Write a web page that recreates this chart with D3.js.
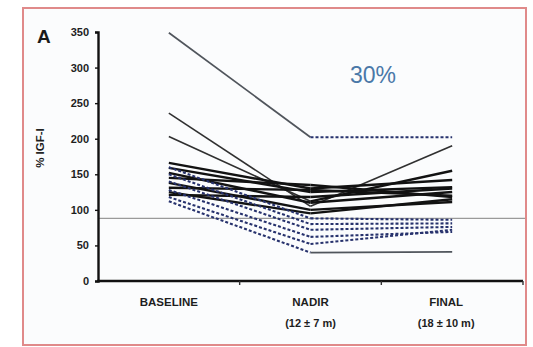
<!DOCTYPE html>
<html>
<head>
<meta charset="utf-8">
<script src="https://cdn.jsdelivr.net/npm/d3@7"></script>
<style>
  html, body { margin: 0; padding: 0; background: #ffffff; }
  svg { display: block; font-family: "Liberation Sans", Arial, sans-serif; }
</style>
</head>
<body>
<svg id="chart" width="533" height="347"></svg>
<script>
// Time points and their sub-labels
const categories = ["BASELINE", "NADIR", "FINAL"];
const subLabels = ["", "(12 ± 7 m)", "(18 ± 10 m)"];
const yTicks = [0, 50, 100, 150, 200, 250, 300, 350];

// Per-patient values (% of normal) at baseline, nadir, final
const baselineValues = [236, 203, 166, 159, 152, 145, 138, 131, 125, 121, 349, 160, 150, 140, 128, 118, 112];
const nadirValues    = [105, 112, 130, 125, 110, 135, 100, 128,  95, 118, 202,  88,  80,  72,  62,  52,  40];
const finalValues    = [190, 155, 142, 132, 125, 118, 111, 120, 115, 130, 202,  86,  81,  76,  69,  72,  41];
// Segment styles: first = baseline→nadir, second = nadir→final
const firstSegStyle  = ["solidThin", "solidThin", "solid", "solid", "solid", "solid", "solid", "solid", "solid", "solid", "solidGray", "dash", "dash", "dash", "dash", "dash", "dash"];
const secondSegStyle = ["solidThin", "solid", "solid", "solid", "solid", "solid", "solid", "solid", "solid", "solid", "dash", "dash", "dash", "dash", "dash", "dash", "solidGray"];

const referenceLevel = 88;
const annotation = "30%";

const styles = {
  solid:     { stroke: "#121212", width: 2.4, dash: null },
  solidThin: { stroke: "#303030", width: 1.6, dash: null },
  solidGray: { stroke: "#50555c", width: 1.7, dash: null },
  dash:      { stroke: "#27326d", width: 2.1, dash: "3,2" }
};

const svg = d3.select("#chart");

// Panel frame
svg.append("rect")
  .attr("x", 23).attr("y", 8).attr("width", 503).attr("height", 337)
  .attr("fill", "#fbfcfd").attr("stroke", "#e08a8a").attr("stroke-width", 2);

const x = d3.scaleBand().domain(categories).range([98, 523]);
const y = d3.scaleLinear().domain([0, 350]).range([281, 32]);
const cx = c => x(c) + x.bandwidth() / 2;

// Reference line
svg.append("line")
  .attr("x1", 98).attr("x2", 525)
  .attr("y1", y(referenceLevel)).attr("y2", y(referenceLevel))
  .attr("stroke", "#9a9a9a").attr("stroke-width", 1.3);

// Patient lines, drawn segment by segment
const lineGen = d3.line().x(d => cx(d.c)).y(d => y(d.v));
const g = svg.append("g");
baselineValues.forEach((b, i) => {
  const pts = [
    { c: categories[0], v: b },
    { c: categories[1], v: nadirValues[i] },
    { c: categories[2], v: finalValues[i] }
  ];
  [[pts[0], pts[1], firstSegStyle[i]], [pts[1], pts[2], secondSegStyle[i]]].forEach(([p, q, s]) => {
    const st = styles[s];
    g.append("path")
      .attr("d", lineGen([p, q]))
      .attr("fill", "none")
      .attr("stroke", st.stroke)
      .attr("stroke-width", st.width)
      .attr("stroke-dasharray", st.dash)
      .attr("stroke-linejoin", "round");
  });
});

// Y axis
const yAxis = svg.append("g")
  .attr("transform", "translate(98,0)")
  .call(d3.axisLeft(y).tickValues(yTicks).tickSize(3).tickPadding(6));
yAxis.select(".domain").attr("stroke", "#111").attr("stroke-width", 2.4);
yAxis.selectAll(".tick line").attr("stroke", "#111").attr("stroke-width", 1.4);
yAxis.selectAll("text")
  .attr("font-size", 11).attr("font-weight", "bold").attr("fill", "#1e1e1e")
  .attr("font-family", "Liberation Sans, Arial, sans-serif");

// X axis line and band boundary ticks
svg.append("line")
  .attr("x1", 97).attr("x2", 523).attr("y1", 281).attr("y2", 281)
  .attr("stroke", "#111").attr("stroke-width", 2.4);
categories.forEach(c => {
  svg.append("line")
    .attr("x1", x(c) + x.bandwidth()).attr("x2", x(c) + x.bandwidth())
    .attr("y1", 281).attr("y2", 285)
    .attr("stroke", "#333").attr("stroke-width", 1.4);
});

// Category labels
categories.forEach((c, i) => {
  svg.append("text")
    .attr("x", cx(c) + (i === 2 ? -6 : 0)).attr("y", 306)
    .attr("text-anchor", "middle")
    .attr("font-size", 11.5).attr("font-weight", "bold").attr("fill", "#1e1e1e")
    .text(c);
  if (subLabels[i]) {
    svg.append("text")
      .attr("x", cx(c) + (i === 2 ? -6 : 0)).attr("y", 327)
      .attr("text-anchor", "middle")
      .attr("font-size", 11).attr("font-weight", "bold").attr("fill", "#1e1e1e")
      .text(subLabels[i]);
  }
});

// Y axis title
svg.append("text")
  .attr("transform", "translate(44,148) rotate(-90)")
  .attr("text-anchor", "middle")
  .attr("font-size", 11.5).attr("font-weight", "bold").attr("fill", "#1e1e1e")
  .text("% IGF-I");

// Panel letter
svg.append("text")
  .attr("x", 37).attr("y", 43)
  .attr("font-size", 19).attr("font-weight", "bold").attr("fill", "#1a1a1a")
  .text("A");

// Annotation
svg.append("text")
  .attr("x", 373).attr("y", 83)
  .attr("text-anchor", "middle")
  .attr("font-size", 23).attr("fill", "#4a78a8")
  .attr("font-family", "Liberation Sans, Arial, sans-serif")
  .text(annotation);
</script>
</body>
</html>
